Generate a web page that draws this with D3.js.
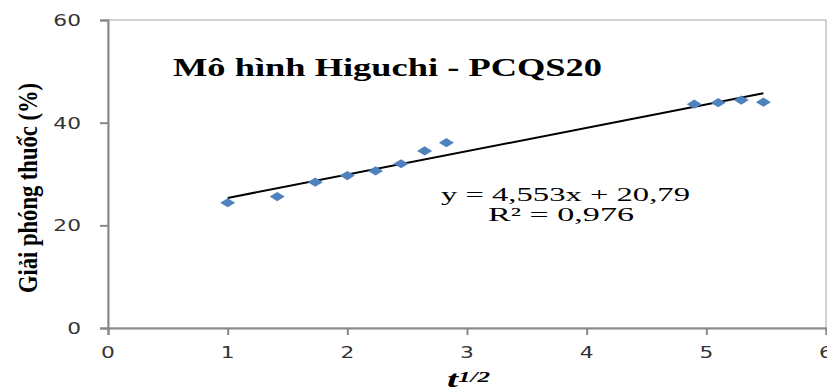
<!DOCTYPE html>
<html>
<head>
<meta charset="utf-8">
<script src="https://cdn.jsdelivr.net/npm/d3@7"></script>
<style>
  body { margin: 0; background: #fff; }
  svg { display: block; }
  .serif { font-family: "Liberation Serif", "Times New Roman", serif; }
  .tick-lbl { font-family: "DejaVu Sans", sans-serif; font-size: 15px; fill: #333; }
</style>
</head>
<body>
<div class="chart"></div>
<script>
"use strict";
// data: x = sqrt(t), y = % released
var sqrtT = [1, 1.414, 1.732, 2, 2.236, 2.449, 2.646, 2.828, 4.899, 5.099, 5.292, 5.477];
var release = [24.4, 25.6, 28.4, 29.7, 30.6, 32.0, 34.5, 36.1, 43.6, 43.9, 44.4, 44.0];
var xTicks = [0, 1, 2, 3, 4, 5, 6];
var yTicks = [0, 20, 40, 60];
var slope = 4.553, intercept = 20.79;
var eqLines = ["y = 4,553x + 20,79", "R\u00b2 = 0,976"];

var W = 827, H = 391;
var margin = {top: 20, right: 1, bottom: 63, left: 108};

var x = d3.scaleLinear().domain([0, 6]).range([margin.left, W - margin.right]);
var y = d3.scaleLinear().domain([0, 60]).range([H - margin.bottom, margin.top]);

var svg = d3.select(".chart").append("svg")
    .attr("width", W).attr("height", H);

// frame (top + right)
svg.append("rect")
    .attr("x", x(0)).attr("y", y(60))
    .attr("width", x(6) - x(0)).attr("height", y(0) - y(60))
    .attr("fill", "none").attr("stroke", "#a6a6a6").attr("stroke-width", 1);

// y axis
var yAxis = svg.append("g")
    .attr("transform", "translate(" + x(0) + ",0)")
    .call(d3.axisLeft(y).tickValues(yTicks).tickSize(8).tickFormat(""));
// x axis
var xAxis = svg.append("g")
    .attr("transform", "translate(0," + y(0) + ")")
    .call(d3.axisBottom(x).tickValues(xTicks).tickSize(7).tickFormat(""));
[yAxis, xAxis].forEach(function(a){
  a.select(".domain").attr("stroke", "#888").attr("stroke-width", 2);
  a.selectAll(".tick line").attr("stroke", "#888").attr("stroke-width", 2);
});

// tick labels (stretched wide like the source)
svg.selectAll(".ylbl").data(yTicks).enter().append("text")
    .attr("class", "tick-lbl ylbl")
    .attr("text-anchor", "end")
    .attr("transform", function(d){ return "translate(81," + (y(d) + 6) + ") scale(1.45,1)"; })
    .text(function(d){ return d; });
svg.selectAll(".xlbl").data(xTicks).enter().append("text")
    .attr("class", "tick-lbl xlbl")
    .attr("text-anchor", "middle")
    .attr("transform", function(d){ return "translate(" + x(d) + "," + (y(0) + 30) + ") scale(1.45,1)"; })
    .text(function(d){ return d; });

// trendline
svg.append("line")
    .attr("x1", x(d3.min(sqrtT))).attr("y1", y(slope * d3.min(sqrtT) + intercept))
    .attr("x2", x(d3.max(sqrtT))).attr("y2", y(slope * d3.max(sqrtT) + intercept))
    .attr("stroke", "#000").attr("stroke-width", 2);

// diamond markers
var dw = 7.5, dh = 4.6;
var diamond = d3.path();
diamond.moveTo(0, -dh); diamond.lineTo(dw, 0); diamond.lineTo(0, dh); diamond.lineTo(-dw, 0); diamond.closePath();
svg.selectAll(".pt").data(sqrtT).enter().append("path")
    .attr("class", "pt")
    .attr("d", diamond.toString())
    .attr("transform", function(d, i){ return "translate(" + x(d) + "," + y(release[i]) + ")"; })
    .attr("fill", "#4f81bd");

// title
svg.append("text").attr("class", "serif")
    .attr("x", 173).attr("y", 76)
    .attr("font-size", 25).attr("font-weight", "bold")
    .attr("textLength", 429).attr("lengthAdjust", "spacingAndGlyphs")
    .text("Mô hình Higuchi - PCQS20");

// equation
svg.append("text").attr("class", "serif")
    .attr("x", 441).attr("y", 201).attr("font-size", 19)
    .attr("textLength", 249).attr("lengthAdjust", "spacingAndGlyphs")
    .text(eqLines[0]);
svg.append("text").attr("class", "serif")
    .attr("x", 488).attr("y", 221).attr("font-size", 19)
    .attr("textLength", 146).attr("lengthAdjust", "spacingAndGlyphs")
    .text(eqLines[1]);

// y label
svg.append("text").attr("class", "serif")
    .attr("transform", "translate(37,188) rotate(-90)")
    .attr("text-anchor", "middle")
    .attr("font-size", 28).attr("font-weight", "bold")
    .attr("textLength", 210).attr("lengthAdjust", "spacingAndGlyphs")
    .text("Giải phóng thuốc (%)");

// x label t^(1/2)
svg.append("text").attr("class", "serif")
    .attr("x", 447).attr("y", 387)
    .attr("font-size", 23).attr("font-weight", "bold").attr("font-style", "italic")
    .attr("textLength", 11).attr("lengthAdjust", "spacingAndGlyphs")
    .text("t");
svg.append("text").attr("class", "serif")
    .attr("x", 458).attr("y", 382)
    .attr("font-size", 14).attr("font-weight", "bold").attr("font-style", "italic")
    .attr("textLength", 32).attr("lengthAdjust", "spacingAndGlyphs")
    .text("1/2");
</script>
</body>
</html>
